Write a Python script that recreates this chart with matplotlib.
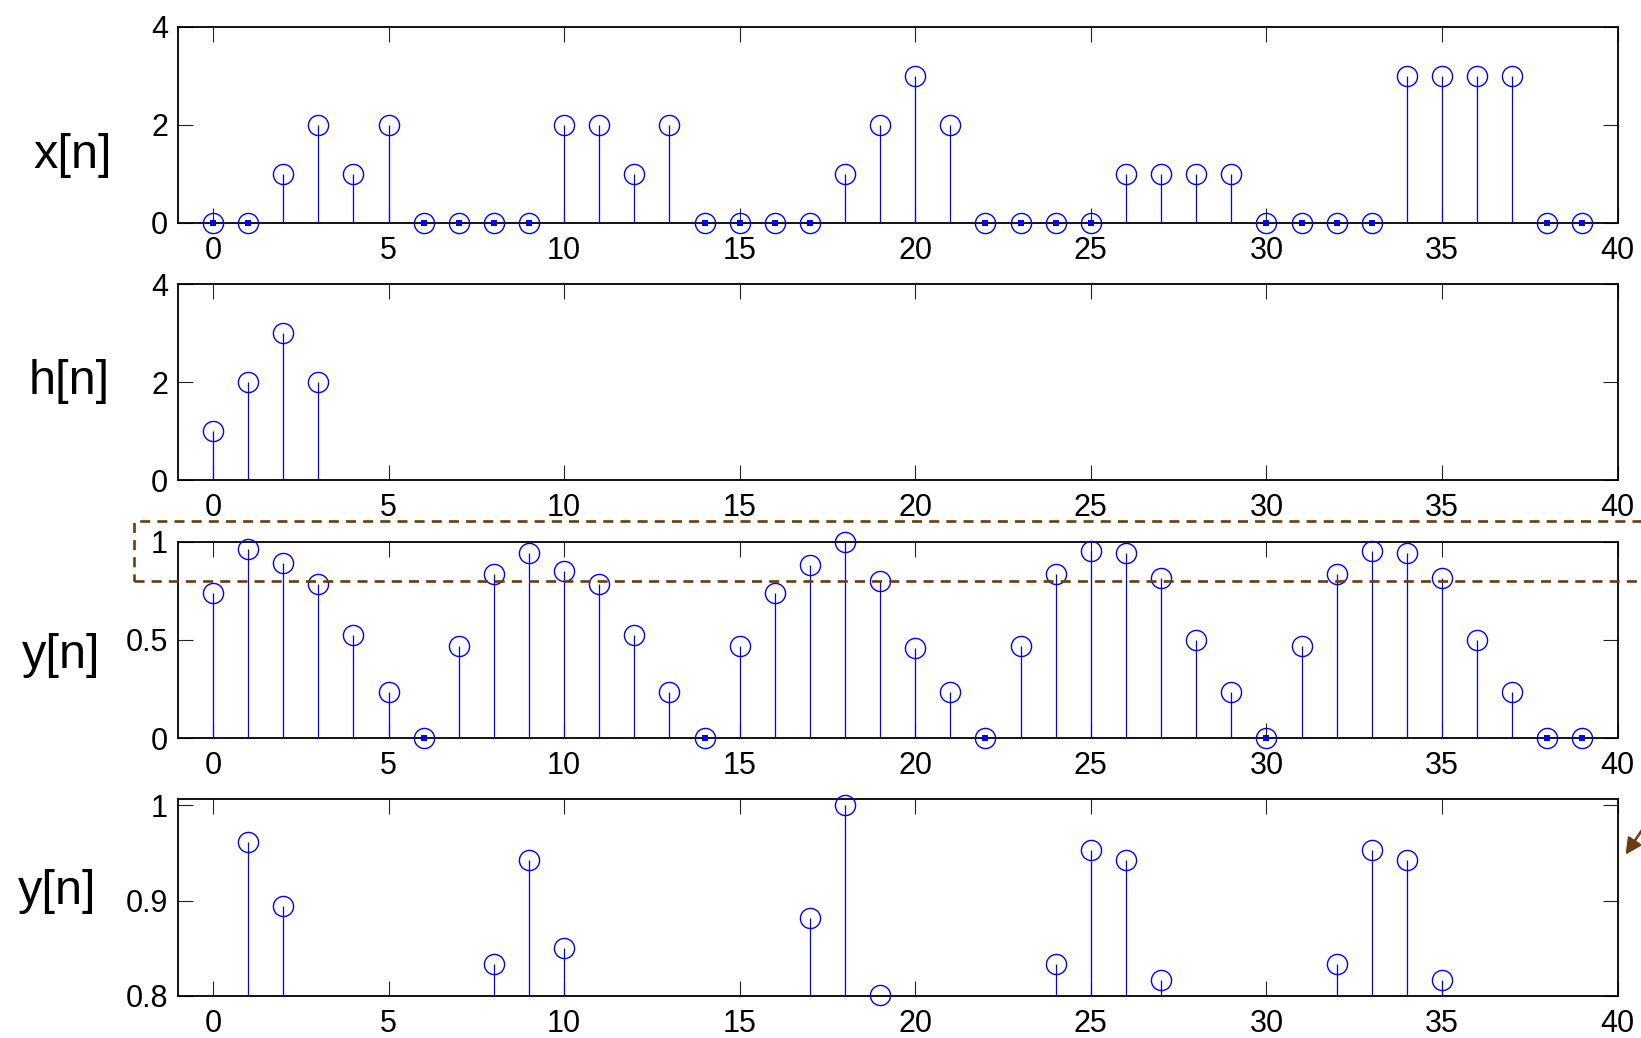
import numpy as np
import matplotlib
matplotlib.use('Agg')
import matplotlib.pyplot as plt
from matplotlib.patches import Rectangle, FancyArrowPatch
from matplotlib.transforms import blended_transform_factory

plt.rcParams['font.family'] = ['Liberation Sans', 'DejaVu Sans']

# data
n = list(range(40))
x_vals = [0, 0, 1, 2, 1, 2, 0, 0, 0, 0, 2, 2, 1, 2, 0, 0, 0, 0, 1, 2,
          3, 2, 0, 0, 0, 0, 1, 1, 1, 1, 0, 0, 0, 0, 3, 3, 3, 3, 0, 0]
h_n = [0, 1, 2, 3]
h_vals = [1, 2, 3, 2]
y_vals = [0.738, 0.962, 0.894, 0.786, 0.527, 0.236, 0.0, 0.471, 0.833, 0.943,
          0.850, 0.786, 0.527, 0.236, 0.0, 0.471, 0.738, 0.882, 1.0, 0.8003,
          0.458, 0.236, 0.0, 0.471, 0.833, 0.953, 0.943, 0.816, 0.5, 0.236,
          0.0, 0.471, 0.833, 0.953, 0.943, 0.816, 0.5, 0.236, 0.0, 0.0]
labels = ['x[n]', 'h[n]', 'y[n]', 'y[n]']
xticks = [0, 5, 10, 15, 20, 25, 30, 35, 40]
yticks1 = [0, 2, 4]
yticks3 = [0, 0.5, 1]
yticks4 = [0.8, 0.9, 1]
ytick4_labels = ['0.8', '0.9', '1']

W, H = 1641, 1038
fig = plt.figure(figsize=(W / 100, H / 100), dpi=100)

blue = '#0000ff'
brown = '#6e3a0c'

def px_axes(top, bottom, left=177.8, right=1617.6):
    return fig.add_axes([left / W, 1 - bottom / H, (right - left) / W, (bottom - top) / H])

ax1 = px_axes(26.7, 222.7)
ax2 = px_axes(284.3, 480.3)
ax3 = px_axes(541.7, 738.0)
ax4 = px_axes(799.3, 995.7)
axes = [ax1, ax2, ax3, ax4]


def stem(ax, xs, ys, lo=None):
    xs = np.asarray(xs)
    ys = np.asarray(ys, dtype=float)
    ax.vlines(xs, 0, ys, color=blue, lw=0.9, zorder=3)
    keep = np.ones(len(ys), bool) if lo is None else ys >= lo
    ax.plot(xs[keep], ys[keep], 'o', ms=14.5, mfc='none', mec=blue, mew=1.0,
            clip_on=False, zorder=4)
    zero = keep & (ys == 0)
    ax.plot(xs[zero], ys[zero], 's', ms=4.2, color=blue, mew=0,
            clip_on=False, zorder=5)


stem(ax1, n, x_vals)
stem(ax2, h_n, h_vals)
stem(ax3, n, y_vals)
stem(ax4, n, y_vals, lo=0.8)

ax1.set_ylim(0, 4)
ax2.set_ylim(0, 4)
ax3.set_ylim(0, 1)
ax4.set_ylim(0.8, 1.0065)
ax1.set_yticks(yticks1)
ax2.set_yticks(yticks1)
ax3.set_yticks(yticks3)
ax3.set_yticklabels(['0', '0.5', '1'])
ax4.set_yticks(yticks4)
ax4.set_yticklabels(ytick4_labels)

for ax in axes:
    ax.set_xlim(-1, 40)
    ax.set_xticks(xticks)
    ax.tick_params(direction='in', length=10.5, width=0.8, top=True, right=True,
                   labelsize=22, color='#222222')
    ax.tick_params(axis='x', pad=9.5)
    ax.tick_params(axis='y', pad=7)
    for s in ax.spines.values():
        s.set_linewidth(1.3)

# row labels
label_pos = [(73, 156), (69, 382), (61, 656), (57.5, 891)]
for lab, (lx, ly) in zip(labels, label_pos):
    fig.text(lx / W, 1 - ly / H, lab, fontsize=35, ha='center', va='center')

# dashed box over the y[n] band 0.8..1.1
tr = blended_transform_factory(fig.transFigure, ax3.transData)
box = Rectangle((134 / W, 0.8), 1.2, 0.307, transform=tr, fill=False,
                ec=brown, lw=1.9, ls=(0, (3.8, 2.7)), clip_on=False, zorder=10)
fig.add_artist(box)

arrow = FancyArrowPatch((1652 / W, 1 - 815 / H), (1624 / W, 1 - 857 / H),
                        transform=fig.transFigure, arrowstyle='-|>',
                        mutation_scale=24, color=brown, lw=1.8, zorder=10)
fig.add_artist(arrow)

plt.savefig('out.png', dpi=100)
